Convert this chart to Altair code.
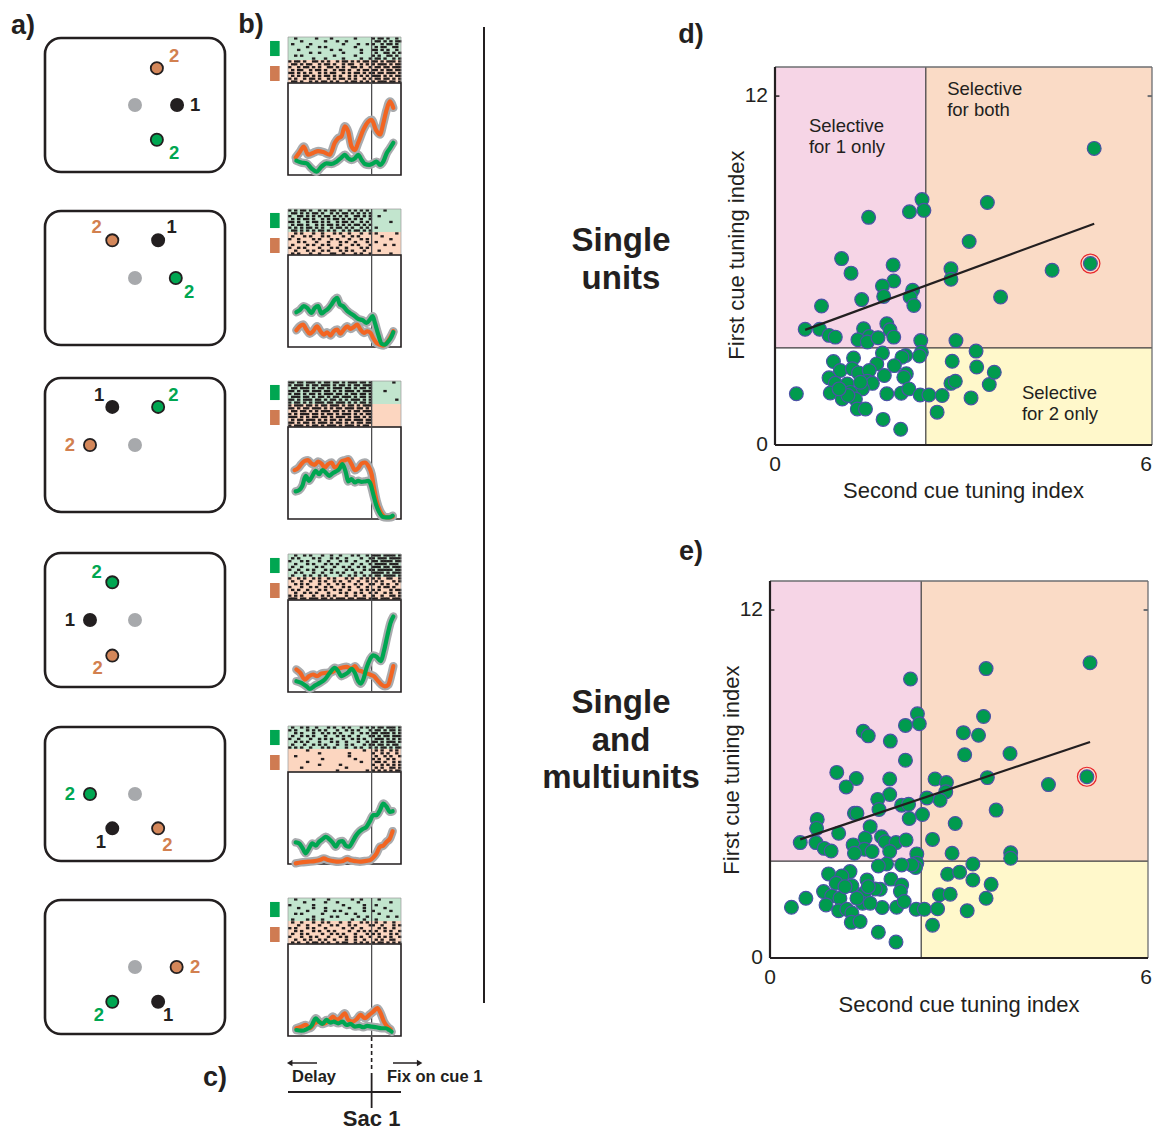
import altair as alt
import pandas as pd

FONT = "Liberation Sans"
INK = "#231f20"
GREEN = "#00a651"
ORANGE_LINE = "#f26522"
ORANGE_DOT = "#d4875a"
ORANGE_TXT = "#d2804f"
GRAY_DOT = "#a7a9ac"
HALO = "#a9abae"

# ---------------- panel a : target layouts (hex-grid units, up = +) ----------------
A_BOX_TOPS = [38, 211, 378, 553, 727, 900]
A_BLACK = [(1.0, 0.0), (0.55, 0.9), (-0.54, 0.91), (-1.07, 0.0), (-0.54, -0.82), (0.55, -0.83)]
A_BLACK_LAB = [(1.43, 0.0), (0.87, 1.21), (-0.85, 1.19), (-1.55, 0.0), (-0.81, -1.14), (0.79, -1.15)]
A_ORANGE = [(0.52, 0.88), (-0.54, 0.9), (-1.07, 0.0), (-0.54, -0.85), (0.55, -0.82), (0.99, 0.0)]
A_ORANGE_LAB = [(0.93, 1.17), (-0.91, 1.21), (-1.55, 0.0), (-0.89, -1.15), (0.77, -1.21), (1.43, 0.0)]
A_GREEN = [(0.52, -0.83), (0.97, 0.0), (0.55, 0.91), (-0.54, 0.9), (-1.07, 0.0), (-0.54, -0.83)]
A_GREEN_LAB = [(0.93, -1.14), (1.29, -0.33), (0.91, 1.19), (-0.91, 1.15), (-1.55, 0.0), (-0.86, -1.15)]

# ---------------- panel b : rasters + PSTHs (x = % of window, Sac 1 at 74) ----------------
B_TOPS = [37, 209, 381, 554, 726, 898]
SAC = 74
B_ORANGE_T = [
    [6.8, 10.4, 13.9, 17.8, 22.2, 26.6, 31.1, 37.0, 41.4, 44.4, 47.3, 50.3, 53.3, 56.2, 59.2, 62.1, 66.6, 71.0, 74.0, 77.8, 81.4, 84.3, 87.3, 90.2, 93.2],
    [7.4, 10.4, 13.3, 16.3, 19.2, 22.2, 25.7, 28.7, 31.7, 34.6, 37.6, 40.5, 43.5, 46.4, 49.4, 52.4, 55.3, 58.3, 61.2, 64.2, 67.2, 70.1, 73.1, 75.4, 78.4, 81.4, 84.3, 87.3, 90.2, 93.2],
    [5.9, 8.9, 11.8, 14.8, 17.8, 20.7, 23.7, 26.6, 29.6, 32.5, 35.5, 38.5, 41.4, 44.4, 47.3, 50.3, 53.3, 56.2, 59.2, 62.1, 65.1, 68.0, 71.0, 74.0, 76.0, 78.4, 81.4, 84.3, 87.3, 90.2, 92.6],
    [7.4, 10.9, 14.8, 18.6, 22.2, 25.7, 29.6, 34.0, 38.5, 42.9, 47.3, 51.8, 56.2, 59.2, 62.1, 65.1, 68.0, 72.5, 76.0, 79.9, 82.8, 85.8, 88.8, 91.1, 93.2],
    [6.8, 11.8, 17.8, 23.7, 28.1, 31.7, 35.5, 39.9, 44.4, 48.8, 52.4, 55.3, 59.2, 63.6, 68.0, 72.5, 75.4, 78.4, 81.4, 84.3, 87.3, 90.2, 92.6],
    [7.4, 11.8, 15.7, 19.2, 23.7, 27.5, 31.1, 35.5, 39.9, 42.9, 45.9, 50.3, 53.3, 57.1, 60.7, 64.2, 68.0, 71.9, 75.4, 79.0, 82.0, 84.9, 87.9, 90.8],
]
B_ORANGE_R = [
    [0.19, 0.25, 0.31, 0.22, 0.24, 0.26, 0.25, 0.22, 0.35, 0.40, 0.42, 0.53, 0.47, 0.31, 0.27, 0.35, 0.49, 0.58, 0.60, 0.49, 0.44, 0.56, 0.71, 0.80, 0.73],
    [0.182, 0.225, 0.244, 0.189, 0.145, 0.171, 0.225, 0.171, 0.135, 0.16, 0.124, 0.171, 0.189, 0.145, 0.189, 0.225, 0.196, 0.218, 0.244, 0.189, 0.153, 0.171, 0.153, 0.098, 0.044, 0.025, 0.015, 0.044, 0.098, 0.171],
    [0.531, 0.552, 0.596, 0.632, 0.639, 0.603, 0.588, 0.625, 0.603, 0.560, 0.596, 0.614, 0.560, 0.578, 0.625, 0.639, 0.650, 0.596, 0.531, 0.552, 0.603, 0.614, 0.578, 0.487, 0.343, 0.199, 0.090, 0.036, 0.018, 0.018, 0.025],
    [0.245, 0.208, 0.135, 0.172, 0.19, 0.172, 0.2, 0.208, 0.215, 0.245, 0.263, 0.274, 0.252, 0.281, 0.237, 0.226, 0.208, 0.19, 0.172, 0.117, 0.08, 0.062, 0.08, 0.172, 0.281],
    [0.007, 0.018, 0.025, 0.032, 0.043, 0.061, 0.043, 0.032, 0.025, 0.032, 0.054, 0.040, 0.032, 0.025, 0.032, 0.040, 0.069, 0.116, 0.188, 0.199, 0.242, 0.278, 0.357],
    [0.084, 0.102, 0.12, 0.084, 0.138, 0.156, 0.131, 0.156, 0.211, 0.175, 0.193, 0.247, 0.175, 0.156, 0.182, 0.229, 0.193, 0.229, 0.265, 0.302, 0.247, 0.156, 0.102, 0.073],
]
B_GREEN_T = [
    [7.4, 11.8, 16.3, 20.7, 25.1, 29.6, 34.0, 38.5, 42.9, 47.3, 50.3, 53.3, 56.2, 59.2, 62.1, 65.1, 68.0, 71.9, 75.4, 78.4, 81.4, 84.3, 87.3, 90.2, 93.2],
    [7.4, 10.4, 13.9, 16.9, 20.7, 23.7, 26.6, 29.6, 32.5, 35.5, 38.5, 41.4, 43.5, 45.9, 48.8, 51.8, 54.7, 58.3, 62.1, 66.0, 69.5, 72.5, 74.9, 76.9, 79.9, 82.8, 85.8, 88.8, 91.7, 93.2],
    [6.8, 9.8, 12.7, 15.7, 18.6, 21.6, 24.6, 27.5, 30.5, 33.4, 36.4, 39.3, 42.3, 45.3, 48.2, 51.2, 53.3, 56.2, 59.2, 62.1, 65.1, 68.0, 71.0, 73.1, 75.4, 77.8, 80.8, 83.7, 86.7, 89.6, 92.6],
    [7.4, 11.8, 16.3, 19.2, 23.7, 28.1, 32.5, 37.0, 41.4, 44.4, 47.3, 50.3, 53.3, 56.2, 59.2, 62.1, 64.5, 66.6, 69.5, 72.5, 75.4, 78.4, 82.0, 84.9, 87.9, 90.8, 93.2],
    [6.8, 9.8, 12.7, 15.7, 18.6, 21.6, 24.6, 27.5, 30.5, 33.4, 36.4, 39.3, 42.3, 45.3, 48.2, 51.2, 54.1, 57.1, 60.1, 63.0, 66.0, 69.5, 72.5, 75.4, 78.4, 81.4, 84.3, 87.3, 90.2, 92.6],
    [7.4, 11.8, 16.3, 20.7, 24.6, 27.5, 30.5, 34.0, 37.6, 40.5, 44.4, 48.2, 51.8, 55.3, 59.2, 63.0, 66.6, 70.1, 74.0, 78.4, 82.8, 86.7, 89.6, 91.7],
]
B_GREEN_R = [
    [0.156, 0.135, 0.127, 0.073, 0.036, 0.09, 0.127, 0.12, 0.145, 0.19, 0.22, 0.18, 0.164, 0.18, 0.22, 0.164, 0.12, 0.11, 0.127, 0.145, 0.11, 0.145, 0.236, 0.29, 0.35],
    [0.378, 0.40, 0.444, 0.425, 0.371, 0.425, 0.444, 0.364, 0.389, 0.415, 0.462, 0.516, 0.535, 0.462, 0.444, 0.40, 0.371, 0.342, 0.305, 0.291, 0.262, 0.298, 0.335, 0.262, 0.135, 0.036, 0.025, 0.062, 0.116, 0.16],
    [0.30, 0.314, 0.361, 0.469, 0.415, 0.469, 0.523, 0.487, 0.531, 0.505, 0.469, 0.495, 0.516, 0.542, 0.596, 0.505, 0.408, 0.433, 0.397, 0.415, 0.404, 0.408, 0.415, 0.379, 0.271, 0.162, 0.072, 0.025, 0.018, 0.018, 0.036],
    [0.117, 0.099, 0.062, 0.033, 0.069, 0.099, 0.135, 0.208, 0.263, 0.226, 0.172, 0.19, 0.215, 0.252, 0.208, 0.117, 0.091, 0.135, 0.263, 0.354, 0.398, 0.383, 0.336, 0.445, 0.61, 0.755, 0.82],
    [0.235, 0.224, 0.177, 0.116, 0.170, 0.224, 0.199, 0.242, 0.271, 0.296, 0.271, 0.235, 0.188, 0.242, 0.249, 0.199, 0.188, 0.242, 0.307, 0.350, 0.379, 0.404, 0.466, 0.531, 0.531, 0.585, 0.657, 0.621, 0.567, 0.574],
    [0.065, 0.058, 0.073, 0.109, 0.193, 0.156, 0.131, 0.175, 0.145, 0.156, 0.138, 0.156, 0.12, 0.131, 0.102, 0.109, 0.095, 0.109, 0.102, 0.095, 0.084, 0.084, 0.065, 0.047],
]
# raster spike patterns: 'x' = spike; part before '|' is before Sac 1, after '|' is after
B_RASTER_G = [
    ["..x......x....x.......x.....|x.xx.x..x.", "....x.......x...x..x........|.xx.x.x.xx", ".x.....x..........x....x..x.|x..x.xx.x.", "......x...x.x.........x.....|.x.xx..xx.",
     "...x..........x..x......x...|xx.x.x..x.", ".......x..x.......x.....x...|.x..xx.x.x", "..x.x..........x......x.....|x.x..xx.x.", "........x...x.....x.....x..x|.xx.x..x.x"],
    ["x.x.xx.x..x.x.xx.x..x.x.x.x.|....x.....", ".xx.x.x.xx.x..x.x.xx.x.x.x.x|..........", "x..xx.x.x.x.xx.x.x.x..xx.x.x|..x.......", ".x.x.xx.x..x.x.xx.x.x.x.x..x|..........",
     "xx.x..x.xx.x.x..x.xx.x..x.x.|......x...", ".x.xx.x..x.x.xx.x.x.x.xx.x.x|..........", "x.x.x.xx.x.x..x.xx.x.x..x.x.|.x........", ".xx.x.x.x.xx.x.x..x.x.xx.x.x|.........."],
    ["xx.xx.xxx.x.xx.xx.x.xxx.xx.x|.......x..", "x.xxx.x.xx.xxx.x.xx.x.xx.xxx|..........", ".xx.xxx.x.xx.x.xxx.xx.x.xx.x|..........", "xx.x.xx.xxx.xx.x.x.xxx.x.xxx|....x.....",
     "x.xx.x.xx.x.xxx.xx.x.xx.xx.x|..........", ".xxx.xx.x.xx.x.xx.xxx.x.xx.x|..........", "xx.x.xxx.xx.x.xx.x.x.xxx.x.x|........x.", "x.xx.x.x.xxx.xx.xxx.x.x.xx.x|.........."],
    ["..x..x.x...x..x..x...x.x..x.|xxx.xxxx.x", ".x.x....x.x...x.x..x....x..x|x.xxx.xxxx", "x...x.x...x..x...x.x..x...x.|xx.xxxx.xx", "..x...x.x...x.x.x....x..x..x|.xxxx.xxx.",
     ".x..x....x.x...x..x.x..x.x..|xxx.xx.xxx", "x..x..x.x...x.x....x.x...x.x|x.xxxxx.xx", "..x.x...x..x..x.x.x...x.x...|xxxx.x.xxx", ".x...x.x..x.x....x..x.x..x.x|.xx.xxxx.x"],
    [".x..x.x..x...x.x..x.x...x.x.|x.xx.xxx.x", "x.x...x.x.x.x...x..x.x.x...x|.xx.x.xx.x", "..x.x...x..x.x.x.x...x..x.x.|xx.xxx.x.x", ".x..x.x.x...x...x.x.x..x...x|x.x.xx.xxx",
     "x..x...x..x.x.x...x..x.x.x..|.xxx.x.x.x", "..x.x.x...x...x.x..x...x..x.|xx.x.xxx.x", ".x...x..x.x.x...x..x.x...x.x|x.xx.x.xx.", "x.x.x..x...x.x.x...x..x.x..x|.x.xx.x.xx"],
    ["..x.....x....x.......x..x...|..x.......", ".....x......x...x......x....|......x...", "x.......x.........x......x..|.x........", "...x....x...x.......x....x..|....x.....",
     "......x.....x..x.x.......x..|x.....x...", "..x.x......x.......x..x.....|..x.......", "........x.....x.x......x..x.|.....x..x.", ".x....x.x..x.........x...x..|.x........"],
]
B_RASTER_O = [
    ["x.xx.x..xx.x.x..x.xx.x.x.xx.|xx.x.xxx.x", ".xx.x.xx..x.xx.x..x.xx..x.x.|x.xxx.x.xx", "x..x.xx.x.x..xx.x.x..xx.x..x|.xx.xx.xxx", ".x.xx..x.xx.x..x.xx.x..x.xx.|xx.x.xx.xx",
     "xx.x.x.x..x.x.xx..x.x.xx.x.x|x.xx.xxx.x", ".x.x.xx.x.x.xx.x.x..x.x.x.x.|xxx.x.x.xx", "x.x..x.xx.x..x.x.xx.x.x..x.x|.xx.xx.x.x", ".xx.x..x.x.xx.x.x..x.xx.x.x.|x.xxx.xx.x"],
    ["..x.x...x..x...x.x..x...x..x|.x......x.", ".x...x.x...x.x....x..x.x....|...x......", "x..x....x.x...x.x...x...x.x.|......x...", "...x.x...x...x...x.x..x...x.|.x........",
     ".x....x.x..x.x...x...x.x...x|....x..x..", "x..x.x....x...x.x..x....x.x.|..........", "..x...x.x..x.x...x.x.x...x..|..x.......", ".x.x...x..x...xx..x...x.x..x|......x..."],
    ["x.xxx.xx.x.xx.xxx.x.xx.x.xxx|..........", "xx.x.xx.xxx.x.x.xx.xxx.xx.x.|..........", ".xx.xx.x.x.xxx.xx.x.x.xx.xxx|..........", "x.x.xxx.xx.x.xx.x.xxx.x.x.xx|..........",
     "xxx.x.x.xx.xx.x.xxx.x.xx.x.x|..........", ".x.xx.xxx.x.x.xx.x.xx.xxx.xx|..........", "xx.x.xx.x.xxx.x.xx.x.x.xx.xx|..........", "x.xxx.x.xx.x.xxx.x.xxx.x.xx.|.........."],
    ["x..x.x..x.x..x.x...x.x..x.x.|x.x..xx..x", ".x..x..x..x.x..x.x..x..x..x.|.x.x...x.x", "..x.x.x...x..x..x.x...x.x..x|x..x.x..x.", "x...x..x.x..x.x...x.x..x..x.|..x.xx.x..",
     ".x.x..x...x.x..x.x..x...x.x.|x.x...x.xx", "..x..x.x.x...x...x.x..x.x..x|.x..x.x..x", "x.x.x...x..x.x.x...x..x..x..|x..x..xx.x", "xxx.xx.xxx.xx.x.xxx.xx.xxx.x|xx.xxx.xxx"],
    ["......x..................x..|.x.x..x.x.", "..........x.........x.......|x..x.x..x.", "..x.................x.......|.x..x.x..x", "...........x..........x.....|x.x..x.x..",
     "......x.................x...|.xx.x..x.x", "..........x......x..........|x..x.x.x.x", "....x..............x........|.x.x..xx.x", "................x.........x.|x.x.x.x.xx"],
    [".x..x...x..x.x...x..x...x.x.|.x..x..x..", "...x..x...x...x.x...x.x....x|x..x...x.x", "x.x...x.x...x.....x..x..x...|..x.x..x..", "..x.x...x.x..x.x....x..x.x.x|.x..x.x..x",
     ".x..x.x....x..x.x.x...x...x.|x.x...x.x.", "x...x..x.x...x...x.x..x.x..x|..x.x.x..x", "..x..x.x..x.x..x...x..x..x..|.x.x..xx..", ".x.x..x.xx.x.x..x.xx..x.x.x.|x.xx.x.x.x"],
]

# ---------------- panels d / e : tuning indices ----------------
X_THR = 2.4   # second-cue selectivity criterion
Y_THR = 3.34  # first-cue selectivity criterion
D_X = [5.08, 5.02, 4.41, 3.59, 3.38, 3.09, 2.80, 2.80, 2.34, 2.37,
       2.14, 1.49, 1.06, 1.21, 1.88, 1.89, 1.71, 1.73, 1.38, 2.19,
       2.15, 2.21, 0.74, 0.48, 0.71, 0.86, 0.96, 1.41, 1.78, 1.83,
       1.89, 1.50, 1.32, 1.47, 1.64, 2.32, 2.88, 2.33, 2.30, 1.71,
       2.08, 2.02, 1.25, 0.93, 1.62, 1.90, 1.04, 1.23, 1.33, 1.50,
       1.74, 2.09, 2.05, 0.86, 0.96, 1.15, 1.47, 1.55, 1.39, 1.20,
       0.88, 1.07, 1.28, 1.31, 1.44, 0.34, 1.78, 2.01, 2.13, 1.72,
       2.00, 2.31, 2.45, 2.66, 2.58, 2.80, 2.87, 2.82, 3.12, 3.21,
       3.20, 3.41, 3.49, 1.16, 1.02, 1.36]
D_Y = [10.2, 6.24, 6.01, 5.09, 8.34, 7.0, 6.06, 5.70, 8.44, 8.07,
       8.02, 7.83, 6.41, 5.91, 6.19, 5.64, 5.47, 5.11, 5.0, 5.32,
       5.09, 4.80, 4.78, 3.98, 3.98, 3.77, 3.71, 4.0, 4.17, 3.96,
       3.71, 3.73, 3.62, 3.54, 3.69, 3.59, 3.59, 3.19, 3.06, 3.16,
       3.08, 3.02, 2.99, 2.87, 2.79, 2.73, 2.56, 2.62, 2.48, 2.56,
       2.39, 2.45, 2.33, 2.31, 2.12, 2.10, 2.19, 2.12, 1.93, 1.81,
       1.79, 1.58, 1.58, 1.24, 1.24, 1.76, 1.76, 1.78, 1.93, 0.88,
       0.54, 1.72, 1.72, 1.70, 1.13, 2.12, 2.19, 2.88, 1.62, 2.68,
       3.23, 2.08, 2.50, 1.70, 1.93, 2.16]
D_HIGHLIGHT = 1
D_FIT_X = [0.48, 5.08]
D_FIT_Y = [3.96, 7.61]

E_X = [5.08, 5.03, 4.42, 3.43, 3.39, 3.07, 3.31, 3.09, 3.81, 3.45,
       3.59, 2.62, 2.80, 2.79, 2.70, 2.49, 2.94, 2.58, 2.89, 3.82,
       3.82, 2.42, 2.23, 2.34, 2.37, 2.15, 1.48, 1.56, 1.91, 2.15,
       1.06, 1.37, 1.21, 1.90, 1.90, 1.71, 1.73, 2.09, 2.20, 2.21,
       1.34, 1.38, 0.75, 0.74, 1.09, 1.59, 0.48, 0.73, 0.86, 0.97,
       1.32, 1.51, 1.50, 1.34, 1.62, 1.77, 1.83, 2.00, 1.90, 2.16,
       2.33, 2.33, 2.31, 2.25, 2.09, 1.85, 1.72, 1.27, 0.93, 1.14,
       1.54, 1.75, 1.92, 2.09, 2.07, 1.05, 0.85, 1.30, 1.49, 1.47,
       0.98, 1.11, 1.38, 0.89, 1.09, 1.22, 1.30, 1.29, 1.43, 0.57,
       0.34, 1.78, 2.01, 2.13, 1.72, 2.00, 2.32, 2.45, 2.66, 2.58,
       2.69, 2.86, 2.82, 3.01, 3.13, 3.22, 3.22, 3.43, 3.51, 1.67,
       1.56, 1.19, 1.59]
E_Y = [10.18, 6.25, 5.98, 9.98, 8.33, 7.77, 7.68, 7.01, 7.05, 6.22,
       5.10, 6.17, 6.05, 5.73, 5.44, 5.52, 4.64, 4.09, 3.61, 3.63,
       3.44, 4.95, 9.62, 8.42, 8.08, 8.02, 7.82, 7.66, 7.48, 6.82,
       6.40, 6.19, 5.90, 6.17, 5.64, 5.47, 5.12, 5.27, 5.30, 4.81,
       4.99, 4.99, 4.78, 4.47, 4.30, 4.53, 3.98, 3.98, 3.78, 3.69,
       3.90, 4.13, 3.75, 3.61, 3.67, 4.18, 4.01, 3.98, 3.67, 4.07,
       3.59, 3.27, 3.12, 3.21, 3.21, 3.24, 3.17, 2.98, 2.90, 2.83,
       2.69, 2.37, 2.72, 2.52, 2.29, 2.58, 2.29, 2.49, 2.23, 1.89,
       2.14, 2.06, 2.06, 1.83, 1.63, 1.68, 1.55, 1.23, 1.26, 2.06,
       1.75, 1.74, 1.75, 1.95, 0.89, 0.55, 1.68, 1.68, 1.70, 1.13,
       2.18, 2.20, 2.89, 2.96, 1.63, 2.69, 3.24, 2.06, 2.54, 2.38,
       2.46, 2.46, 1.89]
E_HIGHLIGHT = 1
E_FIT_X = [0.48, 5.08]
E_FIT_Y = [4.09, 7.45]

REGION_LABELS = ["Selective", "for 1 only", "Selective", "for both", "Selective", "for 2 only"]
REGION_LX = [0.54, 0.54, 2.74, 2.74, 3.93, 3.93]
REGION_LY = [10.97, 10.25, 12.24, 11.52, 1.79, 1.07]

# ---------------- helpers ----------------
W, H = 1145, 1123
RIGHT_EDGE = 8 + W  # last page pixel column the chart can draw on


def P(v):
    return v - 8  # page pixel -> canvas pixel (8px page margin)


def scl(domain, rng):
    return alt.Scale(domain=list(domain), range=[P(r) for r in rng], nice=False, zero=False)


def xy(xs, ys, x="x", y="y", x2=None, y2=None):
    d = dict(x=alt.X(f"{x}:Q", scale=xs, axis=None), y=alt.Y(f"{y}:Q", scale=ys, axis=None))
    if x2:
        d["x2"] = alt.X2(f"{x2}:Q")
    if y2:
        d["y2"] = alt.Y2(f"{y2}:Q")
    return d


FIGX = scl([8, 1153], [8, 1153])
FIGY = scl([8, 1131], [8, 1131])
L = []

# ---------------- panel a ----------------
for i in range(6):
    top = A_BOX_TOPS[i]
    xs = scl([-2.14, 2.14], [45, 225])
    ys = scl([-1.6, 1.6], [top + 134, top])
    box = pd.DataFrame({"x": [-2.14], "x2": [2.14], "y": [-1.6], "y2": [1.6]})
    L.append(alt.Chart(box).mark_rect(filled=False, stroke=INK, strokeWidth=2.6, cornerRadius=16)
             .encode(**xy(xs, ys, x2="x2", y2="y2")))
    dots = pd.DataFrame({
        "x": [0, A_BLACK[i][0], A_ORANGE[i][0], A_GREEN[i][0]],
        "y": [0, A_BLACK[i][1], A_ORANGE[i][1], A_GREEN[i][1]],
        "f": [GRAY_DOT, INK, ORANGE_DOT, GREEN],
        "s": [GRAY_DOT, INK, INK, INK]})
    L.append(alt.Chart(dots).mark_circle(size=148, strokeWidth=1.8, opacity=1)
             .encode(**xy(xs, ys), fill=alt.Fill("f:N", scale=None), stroke=alt.Stroke("s:N", scale=None)))
    labs = pd.DataFrame({
        "x": [A_BLACK_LAB[i][0], A_ORANGE_LAB[i][0], A_GREEN_LAB[i][0]],
        "y": [A_BLACK_LAB[i][1], A_ORANGE_LAB[i][1], A_GREEN_LAB[i][1]],
        "t": ["1", "2", "2"], "c": [INK, ORANGE_TXT, GREEN]})
    L.append(alt.Chart(labs).mark_text(font=FONT, fontSize=18.5, fontWeight="bold", align="center", baseline="middle")
             .encode(**xy(xs, ys), text="t:N", color=alt.Color("c:N", scale=None)))

# ---------------- panel b ----------------
ROW_H = 0.25 / 8
for i in range(6):
    T = B_TOPS[i]
    xs = scl([0, 100], [288, 401])
    ys = scl([0, 1.5], [T + 138, T])
    rows = [
        dict(x=0, x2=100, y=1.25, y2=1.5, c="#c2e5ce"),
        dict(x=0, x2=100, y=1.0, y2=1.25, c="#fcd6c0"),
        dict(x=-15.9, x2=-7.4, y=1.293, y2=1.457, c=GREEN),
        dict(x=-15.9, x2=-7.4, y=1.022, y2=1.185, c="#cf7b52"),
    ]
    for band_top, pats in ((1.5, B_RASTER_G[i]), (1.25, B_RASTER_O[i])):
        for r, pat in enumerate(pats):
            left, right = pat.split("|")
            yc = band_top - (r + 0.5) * ROW_H
            for seg, (a0, a1) in ((left, (0, SAC)), (right, (SAC, 100))):
                step = (a1 - a0) / len(seg)
                for j, ch in enumerate(seg):
                    if ch == "x":
                        x0 = a0 + j * step
                        rows.append(dict(x=x0, x2=x0 + step * 1.15, y=yc - 0.0125, y2=yc + 0.0125, c=INK))
    L.append(alt.Chart(pd.DataFrame(rows)).mark_rect(opacity=1)
             .encode(**xy(xs, ys, x2="x2", y2="y2"), color=alt.Color("c:N", scale=None)))
    fr = pd.DataFrame({"x": [0], "x2": [100], "y": [1.0], "y2": [1.5]})
    L.append(alt.Chart(fr).mark_rect(filled=False, stroke="#9a9a9a", strokeWidth=0.7)
             .encode(**xy(xs, ys, x2="x2", y2="y2")))
    fb = pd.DataFrame({"x": [0], "x2": [100], "y": [0.0], "y2": [1.0]})
    L.append(alt.Chart(fb).mark_rect(filled=False, stroke=INK, strokeWidth=1.6)
             .encode(**xy(xs, ys, x2="x2", y2="y2")))
    vl = pd.DataFrame({"x": [SAC], "y": [0.0], "y2": [1.5]})
    L.append(alt.Chart(vl).mark_rule(color="#4d4d4f", strokeWidth=1.3)
             .encode(**xy(xs, ys, y2="y2")))
    o = pd.DataFrame({"x": B_ORANGE_T[i], "y": B_ORANGE_R[i], "s": "orange"})
    g = pd.DataFrame({"x": B_GREEN_T[i], "y": B_GREEN_R[i], "s": "green"})
    both = pd.concat([o, g], ignore_index=True)
    L.append(alt.Chart(both).mark_line(color=HALO, strokeWidth=8.5, interpolate="monotone", strokeCap="round",
                                       strokeJoin="round")
             .encode(**xy(xs, ys), detail="s:N"))
    L.append(alt.Chart(o).mark_line(color=ORANGE_LINE, strokeWidth=4.2, interpolate="monotone", strokeCap="round")
             .encode(**xy(xs, ys)))
    L.append(alt.Chart(g).mark_line(color=GREEN, strokeWidth=4.2, interpolate="monotone", strokeCap="round")
             .encode(**xy(xs, ys)))

# ---------------- panel c (time axis schematic) ----------------
xc = scl([0, 100], [288, 401])
c_rules = pd.DataFrame([
    dict(x=SAC, x2=SAC, y=1073, y2=1108, w=1.8),
    dict(x=0, x2=100, y=1092, y2=1092, w=1.8),
    dict(x=25.7, x2=2, y=1063, y2=1063, w=1.5),
    dict(x=92.9, x2=116, y=1063, y2=1063, w=1.5),
])
L.append(alt.Chart(c_rules).mark_rule(color=INK)
         .encode(**xy(xc, FIGY, x2="x2", y2="y2"), strokeWidth=alt.StrokeWidth("w:Q", scale=None)))
c_dash = pd.DataFrame({"x": [SAC], "y": [1037], "y2": [1069]})
L.append(alt.Chart(c_dash).mark_rule(color=INK, strokeWidth=1.6, strokeDash=[4, 3])
         .encode(**xy(xc, FIGY, y2="y2")))
c_heads = pd.DataFrame({"x": [1.5, 116.5], "y": [1063, 1063], "sh": ["triangle-left", "triangle-right"]})
L.append(alt.Chart(c_heads).mark_point(filled=True, color=INK, size=40, opacity=1)
         .encode(**xy(xc, FIGY), shape=alt.Shape("sh:N", scale=None)))
c_txt = pd.DataFrame({"x": [23, 87.6], "y": [1077, 1077], "t": ["Delay", "Fix on cue 1"], "a": ["center", "left"]})
L.append(alt.Chart(c_txt[c_txt.a == "center"]).mark_text(font=FONT, fontSize=16.5, fontWeight="bold", color=INK,
                                                     align="center", baseline="middle")
         .encode(**xy(xc, FIGY), text="t:N"))
L.append(alt.Chart(c_txt[c_txt.a == "left"]).mark_text(font=FONT, fontSize=16.5, fontWeight="bold", color=INK,
                                                   align="left", baseline="middle")
         .encode(**xy(xc, FIGY), text="t:N"))
sac_txt = pd.DataFrame({"x": [SAC], "y": [1126], "t": ["Sac 1"]})
L.append(alt.Chart(sac_txt).mark_text(font=FONT, fontSize=22, fontWeight="bold", color=INK,
                                      align="center", baseline="alphabetic")
         .encode(**xy(xc, FIGY), text="t:N"))


# ---------------- panels d and e ----------------
def scatter(X, Y, hi, fx, fy, xr, yr, region_text, ylab_pos, xtitle_dy):
    xs = scl([0, 6], xr)
    ys = scl([0, 13], yr)
    out = []
    reg = pd.DataFrame([
        dict(x=0, x2=X_THR, y=Y_THR, y2=13, c="#f6d5e6"),
        dict(x=X_THR, x2=6, y=Y_THR, y2=13, c="#fadbc6"),
        dict(x=X_THR, x2=6, y=0, y2=Y_THR, c="#fff8cb"),
    ])
    out.append(alt.Chart(reg).mark_rect(opacity=1)
               .encode(**xy(xs, ys, x2="x2", y2="y2"), color=alt.Color("c:N", scale=None)))
    rl = pd.DataFrame([
        dict(x=X_THR, x2=X_THR, y=0, y2=13, c="#3b3b3d", w=1.2),
        dict(x=0, x2=6, y=Y_THR, y2=Y_THR, c="#3b3b3d", w=1.2),
        dict(x=0, x2=6, y=13, y2=13, c="#6d6e71", w=1.3),
        dict(x=6, x2=6, y=0, y2=13, c="#6d6e71", w=1.3),
        dict(x=0, x2=0, y=0, y2=13, c=INK, w=2.2),
        dict(x=0, x2=6, y=0, y2=0, c=INK, w=2.2),
        dict(x=0, x2=0.07, y=12, y2=12, c=INK, w=1.5),
        dict(x=5.93, x2=6, y=12, y2=12, c="#6d6e71", w=2),
    ])
    out.append(alt.Chart(rl).mark_rule()
               .encode(**xy(xs, ys, x2="x2", y2="y2"), color=alt.Color("c:N", scale=None),
                       strokeWidth=alt.StrokeWidth("w:Q", scale=None)))
    if region_text:
        rt = pd.DataFrame({"x": REGION_LX, "y": REGION_LY, "t": REGION_LABELS})
        out.append(alt.Chart(rt).mark_text(font=FONT, fontSize=18.5, color=INK, align="left", baseline="middle")
                   .encode(**xy(xs, ys), text="t:N"))
    pts = pd.DataFrame({"x": X, "y": Y})
    out.append(alt.Chart(pts).mark_circle(size=190, fill="#009b4e", stroke="#4b52a6", strokeWidth=1.2, opacity=1)
               .encode(**xy(xs, ys)))
    ring = pd.DataFrame({"x": [X[hi]], "y": [Y[hi]]})
    out.append(alt.Chart(ring).mark_point(shape="circle", filled=False, size=360, stroke="#e8242b",
                                          strokeWidth=1.2, opacity=1)
               .encode(**xy(xs, ys)))
    fit = pd.DataFrame({"x": fx, "y": fy})
    out.append(alt.Chart(fit).mark_line(color=INK, strokeWidth=2.2).encode(**xy(xs, ys)))
    xt0 = pd.DataFrame({"x": [0], "y": [0], "t": ["0"]})
    out.append(alt.Chart(xt0).mark_text(font=FONT, fontSize=21, color=INK, align="center", baseline="middle", dy=20)
               .encode(**xy(xs, ys), text="t:N"))
    xt6 = pd.DataFrame({"x": [6], "y": [0], "t": ["6"]})
    out.append(alt.Chart(xt6).mark_text(font=FONT, fontSize=21, color=INK, align="right", baseline="middle", dy=20,
                                        dx=min(6, RIGHT_EDGE - 1 - xr[1]))
               .encode(**xy(xs, ys), text="t:N"))
    yt = pd.DataFrame({"x": [0, 0], "y": [0, 12], "t": ["0", "12"]})
    out.append(alt.Chart(yt).mark_text(font=FONT, fontSize=21, color=INK, align="right", baseline="middle", dx=-7)
               .encode(**xy(xs, ys), text="t:N"))
    xtt = pd.DataFrame({"x": [3.0], "y": [0], "t": ["Second cue tuning index"]})
    out.append(alt.Chart(xtt).mark_text(font=FONT, fontSize=22, color=INK, align="center", baseline="middle",
                                        dy=xtitle_dy)
               .encode(**xy(xs, ys), text="t:N"))
    ytt = pd.DataFrame({"x": [ylab_pos[0]], "y": [ylab_pos[1]], "t": ["First cue tuning index"]})
    out.append(alt.Chart(ytt).mark_text(font=FONT, fontSize=22, color=INK, align="center", baseline="middle",
                                        angle=270)
               .encode(**xy(xs, ys), text="t:N"))
    return out


L += scatter(D_X, D_Y, D_HIGHLIGHT, D_FIT_X, D_FIT_Y, [775, 1152], [445, 67], True, (-0.6, 6.53), 46)
L += scatter(E_X, E_Y, E_HIGHLIGHT, E_FIT_X, E_FIT_Y, [770, 1148], [958, 581], False, (-0.6, 6.48), 47)

# ---------------- figure-level annotations ----------------
div = pd.DataFrame({"x": [484], "y": [27], "y2": [1003]})
L.append(alt.Chart(div).mark_rule(color=INK, strokeWidth=2).encode(**xy(FIGX, FIGY, y2="y2")))
plabels = pd.DataFrame({"x": [23, 251, 215, 691, 691], "y": [26, 25, 1078, 35, 552],
                        "t": ["a)", "b)", "c)", "d)", "e)"]})
L.append(alt.Chart(plabels).mark_text(font=FONT, fontSize=27, fontWeight="bold", color=INK,
                                      align="center", baseline="middle")
         .encode(**xy(FIGX, FIGY), text="t:N"))
group_txt = pd.DataFrame({"x": [621] * 5, "y": [241, 279, 703, 741, 778],
                          "t": ["Single", "units", "Single", "and", "multiunits"]})
L.append(alt.Chart(group_txt).mark_text(font=FONT, fontSize=33, fontWeight="bold", color=INK,
                                        align="center", baseline="middle")
         .encode(**xy(FIGX, FIGY), text="t:N"))

chart = (alt.LayerChart(layer=L)
         .resolve_scale(x="independent", y="independent")
         .properties(width=W, height=H, padding=0, autosize=alt.AutoSizeParams(type="none"))
         .configure_view(stroke=None))

chart.save("out.html", embed_options={"renderer": "svg", "actions": False})
